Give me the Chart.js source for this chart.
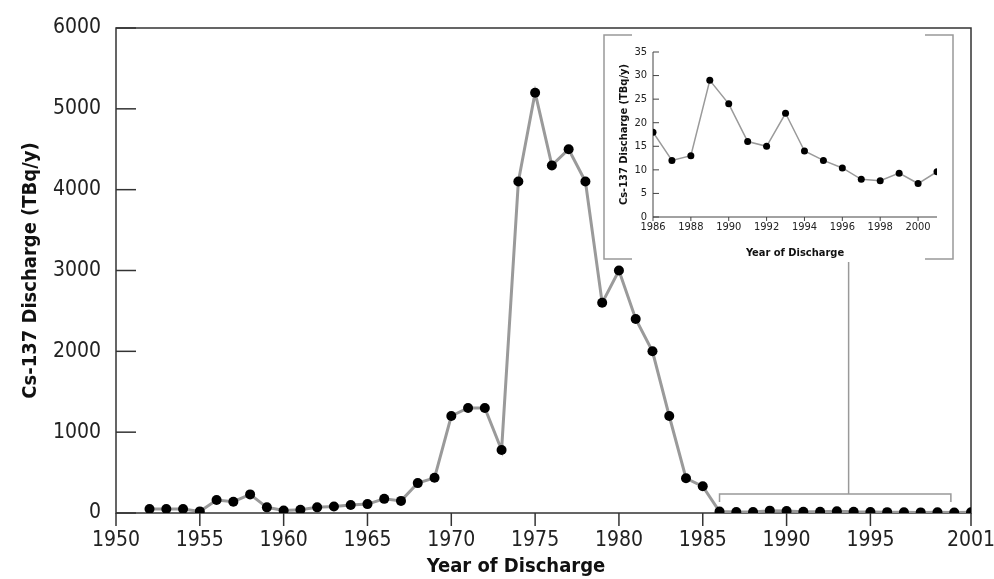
<!DOCTYPE html>
<html>
<head>
<meta charset="utf-8">
<script src="https://cdn.jsdelivr.net/npm/chart.js@4.4.1/dist/chart.umd.min.js"></script>
<style>
    html, body { margin: 0; padding: 0; background: #fff; }
    #wrap { position: relative; width: 994px; height: 579px; }
    #mainChart { position: absolute; left: 0; top: 0; }
    #insetChart { position: absolute; left: 604px; top: 35px; }
</style>
</head>
<body>
<div id="wrap">
    <canvas id="mainChart" width="994" height="579"></canvas>
    <canvas id="insetChart" width="350" height="225"></canvas>
</div>
<script>
// Main series: yearly Cs-137 discharge (TBq/y)
const years = [1952, 1953, 1954, 1955, 1956, 1957, 1958, 1959, 1960, 1961, 1962, 1963, 1964, 1965,
    1966, 1967, 1968, 1969, 1970, 1971, 1972, 1973, 1974, 1975, 1976, 1977, 1978, 1979, 1980,
    1981, 1982, 1983, 1984, 1985, 1986, 1987, 1988, 1989, 1990, 1991, 1992, 1993, 1994, 1995,
    1996, 1997, 1998, 1999, 2000, 2001];
const discharge = [50, 50, 50, 20, 160, 140, 230, 70, 30, 40, 70, 80, 100, 110,
    175, 150, 370, 435, 1200, 1300, 1300, 780, 4100, 5200, 4300, 4500, 4100, 2600, 3000,
    2400, 2000, 1200, 430, 330, 18, 12, 13, 29, 24, 16, 15, 22, 14, 12,
    10.4, 8, 7.7, 9.3, 7.1, 9.6];
const xTickLabels = [1950, 1955, 1960, 1965, 1970, 1975, 1980, 1985, 1990, 1995, 2001];
const yTickLabels = [0, 1000, 2000, 3000, 4000, 5000, 6000];

// Inset: 1986-2001 detail
const insetYears = [1986, 1987, 1988, 1989, 1990, 1991, 1992, 1993, 1994, 1995, 1996, 1997, 1998, 1999, 2000, 2001];
const insetDischarge = [18, 12, 13, 29, 24, 16, 15, 22, 14, 12, 10.4, 8, 7.7, 9.3, 7.1, 9.6];
const insetXTicks = [1986, 1988, 1990, 1992, 1994, 1996, 1998, 2000];
const insetYTicks = [0, 5, 10, 15, 20, 25, 30, 35];

const FONT = "'DejaVu Sans Condensed', 'Liberation Sans', sans-serif";

function line(ctx, x1, y1, x2, y2) {
    ctx.beginPath();
    ctx.moveTo(x1, y1);
    ctx.lineTo(x2, y2);
    ctx.stroke();
}

// keep the plot area fixed, no extra room for overhanging end labels
function noPad(s) {
    s.paddingLeft = 0; s.paddingRight = 0; s.paddingTop = 0; s.paddingBottom = 0;
}

const mainFrame = {
    id: 'mainFrame',
    beforeDatasetsDraw(chart) {
        const { ctx, chartArea: a, scales: { x, y } } = chart;
        ctx.save();
        ctx.strokeStyle = '#333';
        ctx.lineWidth = 1.5;
        ctx.strokeRect(a.left, a.top, a.right - a.left, a.bottom - a.top);
        // y ticks point inward, x ticks point down
        yTickLabels.forEach(v => {
            const py = y.getPixelForValue(v);
            line(ctx, a.left, py, a.left + 20, py);
        });
        xTickLabels.forEach(v => {
            const px = x.getPixelForValue(v);
            line(ctx, px, a.bottom, px, a.bottom + 13);
        });

        // bracket pointing to the inset
        ctx.strokeStyle = '#999';
        ctx.lineWidth = 1.5;
        const bx1 = x.getPixelForValue(1986), bx2 = x.getPixelForValue(1999.8);
        const by = y.getPixelForValue(235), byEnd = y.getPixelForValue(135);
        ctx.beginPath();
        ctx.moveTo(bx1, byEnd); ctx.lineTo(bx1, by); ctx.lineTo(bx2, by); ctx.lineTo(bx2, byEnd);
        ctx.stroke();
        const cx = x.getPixelForValue(1993.7);
        line(ctx, cx, by, cx, 262);

        // inset frame (open corners)
        ctx.beginPath();
        ctx.moveTo(632, 35); ctx.lineTo(604, 35); ctx.lineTo(604, 259); ctx.lineTo(632, 259);
        ctx.moveTo(925, 35); ctx.lineTo(953, 35); ctx.lineTo(953, 259); ctx.lineTo(925, 259);
        ctx.stroke();

        // axis titles
        ctx.fillStyle = '#111';
        ctx.font = 'bold 20px ' + FONT;
        ctx.textAlign = 'center';
        ctx.textBaseline = 'middle';
        ctx.fillText('Year of Discharge', 516, 567);
        ctx.translate(31, (a.top + a.bottom) / 2);
        ctx.rotate(-Math.PI / 2);
        ctx.fillText('Cs-137 Discharge (TBq/y)', 0, 0);
        ctx.restore();
    }
};

new Chart(document.getElementById('mainChart').getContext('2d'), {
    type: 'line',
    data: {
        datasets: [{
            data: years.map((yr, i) => ({ x: yr, y: discharge[i] })),
            borderColor: '#9a9a9a',
            borderWidth: 3,
            pointRadius: 5,
            pointBackgroundColor: '#000',
            pointBorderColor: '#000',
            pointBorderWidth: 0,
            tension: 0
        }]
    },
    options: {
        responsive: false, animation: false,
        layout: { padding: { top: 28, right: 23, left: 0, bottom: 0 } },
        plugins: { legend: { display: false }, tooltip: { enabled: false } },
        scales: {
            x: {
                type: 'linear', min: 1950, max: 2001,
                afterBuildTicks: s => { s.ticks = xTickLabels.map(v => ({ value: v })); },
                afterFit: s => { s.height = 66; noPad(s); },
                grid: { display: false, drawTicks: false },
                border: { display: false },
                ticks: { color: '#222', padding: 15, maxRotation: 0, autoSkip: false,
                    font: { family: FONT, size: 21 }, callback: v => String(v) }
            },
            y: {
                min: 0, max: 6000,
                afterBuildTicks: s => { s.ticks = yTickLabels.map(v => ({ value: v })); },
                afterFit: s => { s.width = 116; noPad(s); },
                grid: { display: false, drawTicks: false },
                border: { display: false },
                ticks: { color: '#222', padding: 15,
                    font: { family: FONT, size: 21 }, callback: v => String(v) }
            }
        }
    },
    plugins: [mainFrame]
});

const insetFrame = {
    id: 'insetFrame',
    beforeDatasetsDraw(chart) {
        const { ctx, chartArea: a, scales: { x, y } } = chart;
        ctx.save();
        ctx.strokeStyle = '#444';
        ctx.lineWidth = 1;
        line(ctx, a.left, a.top, a.left, a.bottom);
        line(ctx, a.left, a.bottom, a.right, a.bottom);
        insetYTicks.forEach(v => {
            const py = y.getPixelForValue(v);
            line(ctx, a.left, py, a.left + 6, py);
        });
        insetXTicks.forEach(v => {
            const px = x.getPixelForValue(v);
            line(ctx, px, a.bottom, px, a.bottom + 4);
        });
        ctx.fillStyle = '#111';
        ctx.font = 'bold 11px ' + FONT;
        ctx.textAlign = 'center';
        ctx.textBaseline = 'middle';
        ctx.fillText('Year of Discharge', (a.left + a.right) / 2, 218);
        ctx.translate(20, (a.top + a.bottom) / 2);
        ctx.rotate(-Math.PI / 2);
        ctx.fillText('Cs-137 Discharge (TBq/y)', 0, 0);
        ctx.restore();
    }
};

new Chart(document.getElementById('insetChart').getContext('2d'), {
    type: 'line',
    data: {
        datasets: [{
            data: insetYears.map((yr, i) => ({ x: yr, y: insetDischarge[i] })),
            borderColor: '#9a9a9a',
            borderWidth: 1.5,
            pointRadius: 3.5,
            pointBackgroundColor: '#000',
            pointBorderColor: '#000',
            pointBorderWidth: 0,
            tension: 0
        }]
    },
    options: {
        responsive: false, animation: false,
        layout: { padding: { top: 17, right: 17, left: 0, bottom: 0 } },
        plugins: { legend: { display: false }, tooltip: { enabled: false } },
        scales: {
            x: {
                type: 'linear', min: 1986, max: 2001,
                afterBuildTicks: s => { s.ticks = insetXTicks.map(v => ({ value: v })); },
                afterFit: s => { s.height = 43; noPad(s); },
                grid: { display: false, drawTicks: false },
                border: { display: false },
                ticks: { color: '#222', padding: 4, maxRotation: 0, autoSkip: false,
                    font: { family: FONT, size: 11 }, callback: v => String(v) }
            },
            y: {
                min: 0, max: 35,
                afterBuildTicks: s => { s.ticks = insetYTicks.map(v => ({ value: v })); },
                afterFit: s => { s.width = 49; noPad(s); },
                grid: { display: false, drawTicks: false },
                border: { display: false },
                ticks: { color: '#222', padding: 6,
                    font: { family: FONT, size: 11 }, callback: v => String(v) }
            }
        }
    },
    plugins: [insetFrame]
});
</script>
</body>
</html>
